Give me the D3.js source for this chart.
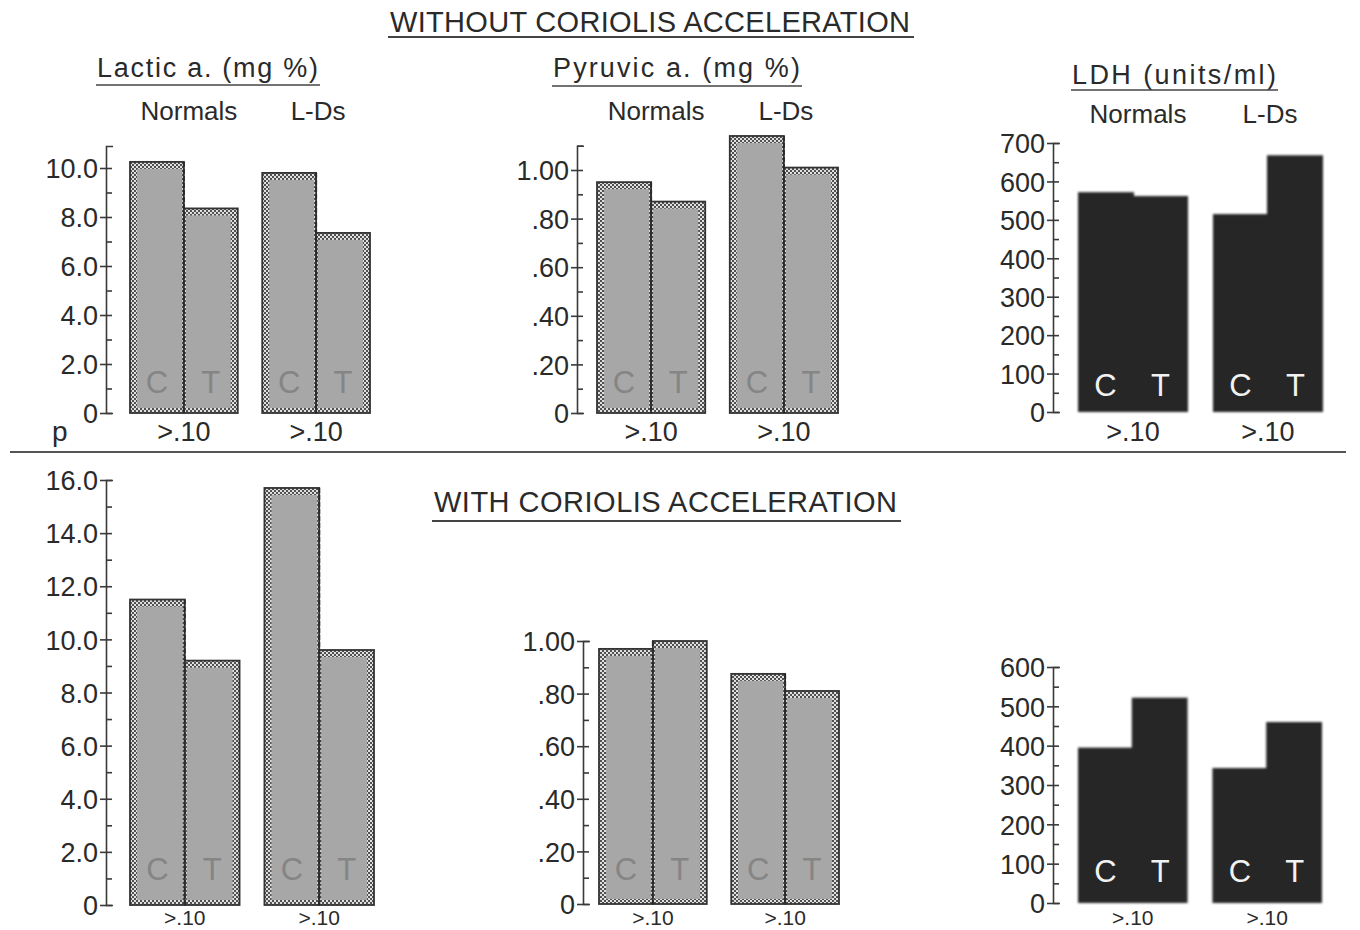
<!DOCTYPE html>
<html>
<head>
<meta charset="utf-8">
<script src="https://cdn.jsdelivr.net/npm/d3@7"></script>
<style>
  body { margin: 0; background: #fff; }
  text { font-family: "Liberation Sans", Arial, sans-serif; fill: #2a2a2a; }
</style>
</head>
<body>
<div id="chart"></div>
<script>
// ---- data ----
const groups = ["Normals", "L-Ds"];
const conditions = ["C", "T"];
const pLabels = [">.10", ">.10"];

// order: Normals C, Normals T, L-Ds C, L-Ds T
const lacticWithout  = [10.25, 8.35, 9.8, 7.35];
const pyruvicWithout = [0.95, 0.87, 1.14, 1.01];
const ldhWithout     = [572, 562, 515, 668];
const lacticWith     = [11.5, 9.2, 15.7, 9.6];
const pyruvicWith    = [0.97, 1.00, 0.875, 0.81];
const ldhWith        = [395, 522, 343, 460];

const lacticTicksWithout = [0, 2, 4, 6, 8, 10];
const lacticTicksWith    = [0, 2, 4, 6, 8, 10, 12, 14, 16];
const pyruvicTicks       = [0, 0.2, 0.4, 0.6, 0.8, 1.0];
const ldhTicksWithout    = [0, 100, 200, 300, 400, 500, 600, 700];
const ldhTicksWith       = [0, 100, 200, 300, 400, 500, 600];

const fmtLactic  = v => v === 0 ? "0" : d3.format(".1f")(v);
const fmtPyruvic = v => v === 0 ? "0" : d3.format(".2f")(v).replace(/^0/, "");
const fmtLdh     = d3.format("d");

const svg = d3.select("#chart").append("svg")
    .attr("width", 1360)
    .attr("height", 930);

const defs = svg.append("defs");
// stippled border of the grey bars
const pat = defs.append("pattern")
    .attr("id", "stipple")
    .attr("width", 4).attr("height", 4)
    .attr("patternUnits", "userSpaceOnUse");
pat.append("rect").attr("width", 4).attr("height", 4).attr("fill", "#e0e0e0");
pat.append("rect").attr("width", 2).attr("height", 2).attr("fill", "#505050");
pat.append("rect").attr("x", 2).attr("y", 2).attr("width", 2).attr("height", 2).attr("fill", "#505050");
// soft edges of the dark LDH bars
defs.append("filter").attr("id", "soft")
    .append("feGaussianBlur").attr("stdDeviation", 1.3);

// panel layout
const panels = [
  {values: lacticWithout,  ticks: lacticTicksWithout, fmt: fmtLactic,  axisX: 106, xr: [130, 370],  y0: 413, yRef: 168, ref: 10,  top: 10.9, minor: 1,   dark: false, ctY: 393, pY: 441, header: true},
  {values: pyruvicWithout, ticks: pyruvicTicks,       fmt: fmtPyruvic, axisX: 577, xr: [597, 838],  y0: 413, yRef: 170, ref: 1,   top: 1.1,  minor: 0.1, dark: false, ctY: 393, pY: 441, header: true},
  {values: ldhWithout,     ticks: ldhTicksWithout,    fmt: fmtLdh,     axisX: 1053, xr: [1078, 1323], y0: 412, yRef: 143, ref: 700, top: 700, minor: 50, dark: true,  ctY: 396, pY: 441, header: true},
  {values: lacticWith,     ticks: lacticTicksWith,    fmt: fmtLactic,  axisX: 106, xr: [130, 374],  y0: 905, yRef: 480, ref: 16,  top: 16,   minor: 1,   dark: false, ctY: 880, pY: 925, header: false},
  {values: pyruvicWith,    ticks: pyruvicTicks,       fmt: fmtPyruvic, axisX: 583, xr: [599, 839],  y0: 904, yRef: 641, ref: 1,   top: 1,    minor: 0.1, dark: false, ctY: 880, pY: 925, header: false},
  {values: ldhWith,        ticks: ldhTicksWith,       fmt: fmtLdh,     axisX: 1053, xr: [1078, 1322], y0: 903, yRef: 667, ref: 600, top: 600, minor: 50, dark: true,  ctY: 882, pY: 925, header: false}
];

const titles = [
  {text: "Lactic a. (mg %)",  x1: 97,   x2: 318,  y: 77, uy: 85},
  {text: "Pyruvic a. (mg %)", x1: 553,  x2: 800,  y: 77, uy: 86},
  {text: "LDH (units/ml)",    x1: 1072, x2: 1276, y: 84, uy: 90}
];

function drawPanel(p, i) {
  const yTopPx = p.y0 - (p.y0 - p.yRef) * p.top / p.ref;
  const y = d3.scaleLinear().domain([0, p.top]).range([p.y0, yTopPx]);
  const x = d3.scaleBand().domain(groups).range(p.xr).paddingInner(0.185);
  const xi = d3.scaleBand().domain(conditions).range([0, x.bandwidth()]);

  const g = svg.append("g");

  // minor ticks on the right, with the bracket-shaped domain
  g.append("g")
      .attr("transform", `translate(${p.axisX},0)`)
      .call(d3.axisRight(y)
          .tickValues(d3.range(0, p.top + 1e-9, p.minor))
          .tickSizeInner(6).tickSizeOuter(7)
          .tickFormat(""))
      .call(s => s.selectAll("path, line").attr("stroke", "#3a3a3a").attr("stroke-width", 1.6));

  // major ticks + labels on the left
  g.append("g")
      .attr("transform", `translate(${p.axisX},0)`)
      .call(d3.axisLeft(y).tickValues(p.ticks).tickSize(6).tickPadding(2).tickFormat(p.fmt))
      .call(s => s.select(".domain").remove())
      .call(s => s.selectAll("line").attr("stroke", "#3a3a3a").attr("stroke-width", 1.6))
      .call(s => s.selectAll("text")
          .attr("font-family", "'Liberation Sans', Arial, sans-serif")
          .attr("font-size", 27)
          .attr("fill", "#2a2a2a")
          .attr("dy", "0.36em"));

  const bars = [];
  groups.forEach((grp, gi) => conditions.forEach((c, ci) => {
    bars.push({group: grp, cond: c, value: p.values[gi * 2 + ci]});
  }));

  if (p.dark) {
    g.append("g").attr("filter", "url(#soft)")
      .selectAll("rect").data(bars).enter().append("rect")
        .attr("x", d => x(d.group) + xi(d.cond) - (d.cond === "T" ? 1 : 0))
        .attr("width", d => xi.bandwidth() + 1)
        .attr("y", d => y(d.value))
        .attr("height", d => p.y0 - y(d.value))
        .attr("fill", "#262626");
  } else {
    g.append("g").selectAll("rect").data(bars).enter().append("rect")
        .attr("x", d => x(d.group) + xi(d.cond))
        .attr("width", xi.bandwidth())
        .attr("y", d => y(d.value))
        .attr("height", d => p.y0 - y(d.value))
        .attr("fill", "url(#stipple)")
        .attr("stroke", "#333")
        .attr("stroke-width", 1.8);
    g.append("g").selectAll("rect").data(bars).enter().append("rect")
        .attr("x", d => x(d.group) + xi(d.cond) + (d.cond === "C" ? 7 : 2))
        .attr("width", xi.bandwidth() - 9)
        .attr("y", d => y(d.value) + 7)
        .attr("height", d => p.y0 - y(d.value) - 12)
        .attr("fill", "#a7a7a7");
    // divider between C and T
    g.append("g").selectAll("line").data(groups).enter().append("line")
        .attr("x1", d => x(d) + xi("T")).attr("x2", d => x(d) + xi("T"))
        .attr("y1", (d, gi) => y(Math.max(p.values[gi * 2], p.values[gi * 2 + 1])))
        .attr("y2", p.y0)
        .attr("stroke", "#2a2a2a")
        .attr("stroke-width", 2)
        .attr("stroke-dasharray", "5 2");
  }

  // C / T letters
  g.append("g").selectAll("text").data(bars).enter().append("text")
      .attr("x", d => x(d.group) + xi(d.cond) + xi.bandwidth() / 2)
      .attr("y", p.ctY)
      .attr("text-anchor", "middle")
      .attr("font-size", 31)
      .style("fill", p.dark ? "#f2f2f2" : "#858585")
      .text(d => d.cond);

  // p values under the groups
  g.append("g").selectAll("text").data(groups).enter().append("text")
      .attr("x", d => x(d) + x.bandwidth() / 2)
      .attr("y", p.pY)
      .attr("text-anchor", "middle")
      .attr("font-size", p.header ? 27 : 21)
      .text((d, gi) => pLabels[gi]);

  // group names above the top row
  if (p.header) {
    g.append("g").selectAll("text").data(groups).enter().append("text")
        .attr("x", d => x(d) + x.bandwidth() / 2 + (d === "Normals" ? 5 : 2))
        .attr("y", i === 2 ? 123 : 120)
        .attr("text-anchor", "middle")
        .attr("font-size", 26)
        .text(d => d);
  }
}

panels.forEach(drawPanel);

// measure titles
titles.forEach(t => {
  svg.append("text")
      .attr("x", t.x1).attr("y", t.y)
      .attr("font-size", 27)
      .attr("textLength", t.x2 - t.x1)
      .attr("lengthAdjust", "spacing")
      .text(t.text);
  svg.append("line")
      .attr("x1", t.x1 - 1).attr("x2", t.x2 + 2)
      .attr("y1", t.uy).attr("y2", t.uy)
      .attr("stroke", "#444").attr("stroke-width", 1.6);
});

// section titles
const sections = [
  {text: "WITHOUT CORIOLIS ACCELERATION", x1: 390, x2: 910, y: 32, uy: 37},
  {text: "WITH CORIOLIS ACCELERATION",    x1: 434, x2: 897, y: 512, uy: 521}
];
sections.forEach(s => {
  svg.append("text")
      .attr("x", s.x1).attr("y", s.y)
      .attr("font-size", 29)
      .attr("textLength", s.x2 - s.x1)
      .attr("lengthAdjust", "spacing")
      .text(s.text);
  svg.append("line")
      .attr("x1", s.x1 - 2).attr("x2", s.x2 + 4)
      .attr("y1", s.uy).attr("y2", s.uy)
      .attr("stroke", "#444").attr("stroke-width", 1.8);
});
// top edge of the scan cuts the first title
svg.append("rect").attr("x", 0).attr("y", 0).attr("width", 1360).attr("height", 12).attr("fill", "#fff");

// p label and separator
svg.append("text").attr("x", 52).attr("y", 441).attr("font-size", 28).text("p");
svg.append("line")
    .attr("x1", 10).attr("x2", 1346)
    .attr("y1", 452).attr("y2", 452)
    .attr("stroke", "#555").attr("stroke-width", 2);
</script>
</body>
</html>
